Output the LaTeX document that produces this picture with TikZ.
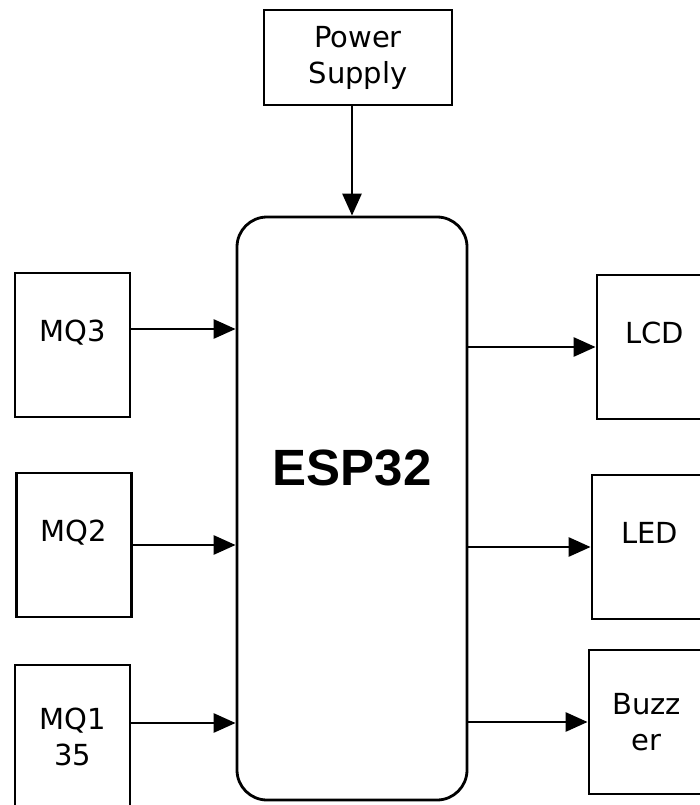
\documentclass[tikz,border=0pt]{standalone}
\usepackage{fontspec}
\setmainfont{DejaVu Sans}
\newfontfamily\espfont{Liberation Sans}
\usetikzlibrary{arrows.meta,positioning}
\usepackage{xcolor}
\definecolor{Ink}{HTML}{000000}

\begin{document}
\begin{tikzpicture}[x=1pt,y=-1pt, b/.style={draw=Ink,line width=2.8pt,minimum width=115pt,minimum height=144pt,align=center,inner sep=0pt,font=\fontsize{29}{36}\selectfont}, up/.style={text height=23pt,text depth=31pt}, a/.style={-{Triangle[length=22pt,width=19pt]},line width=2.8pt,draw=Ink}]
    \useasboundingbox (0,0) rectangle (700,805); \clip (0,0) rectangle (700,805);
    \node[b,minimum width=188pt,minimum height=95pt] (pow) at (358,57.5) {Power\\Supply};
    \node[b,minimum width=230pt,minimum height=583pt,rounded corners=30pt,text height=37pt,text depth=84pt,font=\espfont\bfseries\fontsize{51}{60}\selectfont] (esp) at (352,508.5) {ESP32};
    \node[b,up] (mq3) at (72.5,345) {MQ3}; \node[b,up] (mq2) at (74,545) {MQ2};
    \node[b] (mq135) at (72.5,737) {MQ1\\35};
    \node[b,up] (lcd) at (654.5,347) {LCD}; \node[b,up] (led) at (649.5,547) {LED};
    \node[b] (buz) at (646.5,722) {Buzz\\er};
    \draw[a](pow.south -| esp.north)--(esp.north);
    \draw[a]([yshift=16pt]mq3.east)--([yshift=16pt]mq3.east -| esp.west);
    \draw[a](mq2.east)--(mq2.east -| esp.west);
    \draw[a]([yshift=14pt]mq135.east)--([yshift=14pt]mq135.east -| esp.west);
    \draw[a](lcd.west -| esp.east)--(lcd.west);\draw[a](led.west -| esp.east)--(led.west);\draw[a](buz.west -| esp.east)--(buz.west);
  \end{tikzpicture}
\end{document}
